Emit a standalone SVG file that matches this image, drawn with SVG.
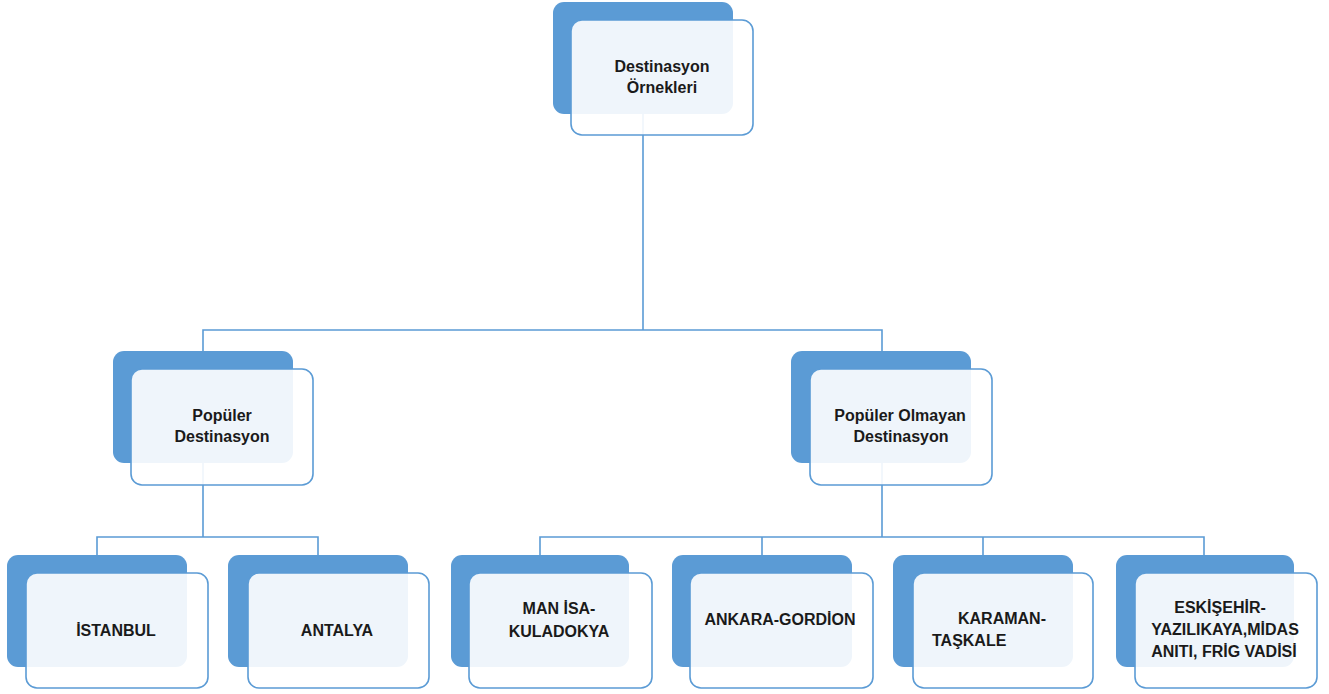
<svg xmlns="http://www.w3.org/2000/svg" width="1329" height="694" viewBox="0 0 1329 694">
<style>
.back{fill:#5B9BD5;}
.front{fill:#ffffff;fill-opacity:0.9;stroke:#5B9BD5;stroke-width:1.6;}
.t{font-family:"Liberation Sans",Arial,sans-serif;font-size:16px;font-weight:bold;fill:#1a1a1a;}
.c{text-anchor:middle;}
.conn{fill:none;stroke:#5B9BD5;stroke-width:1.6;}
</style>
<rect width="1329" height="694" fill="#ffffff"/>
<g id="connectors">
<path class="conn" d="M643 113 V330 M203 352 V330 H882 V352"/>
<path class="conn" d="M203 463 V537 M97 555 V537 H318 V555"/>
<path class="conn" d="M882 463 V537 M540 555 V537 H1204 V555 M762 537 V555 M983 537 V555"/>
</g>
<g id="node-root">
<rect class="back" x="553" y="2" width="180" height="112" rx="11"/>
<rect class="front" x="571" y="20" width="182" height="115" rx="11"/>
<text class="t c" x="662" y="72">Destinasyon</text>
<text class="t c" x="662" y="93">Örnekleri</text>
</g>
<g id="node-populer">
<rect class="back" x="113" y="351" width="180" height="112" rx="11"/>
<rect class="front" x="131" y="369" width="182" height="116" rx="11"/>
<text class="t c" x="222" y="421">Popüler</text>
<text class="t c" x="222" y="442">Destinasyon</text>
</g>
<g id="node-populer-olmayan">
<rect class="back" x="791" y="351" width="180" height="112" rx="11"/>
<rect class="front" x="810" y="369" width="182" height="116" rx="11"/>
<text class="t c" x="900" y="421">Popüler Olmayan</text>
<text class="t c" x="901" y="442">Destinasyon</text>
</g>
<g id="node-istanbul">
<rect class="back" x="7" y="555" width="180" height="112" rx="11"/>
<rect class="front" x="26" y="573" width="182" height="115" rx="11"/>
<text class="t c" x="116" y="636">İSTANBUL</text>
</g>
<g id="node-antalya">
<rect class="back" x="228" y="555" width="180" height="112" rx="11"/>
<rect class="front" x="248" y="573" width="181" height="115" rx="11"/>
<text class="t c" x="337" y="636">ANTALYA</text>
</g>
<g id="node-manisa">
<rect class="back" x="451" y="555" width="178" height="112" rx="11"/>
<rect class="front" x="469" y="573" width="183" height="115" rx="11"/>
<text class="t c" x="559" y="614">MAN İSA-</text>
<text class="t c" x="559" y="637">KULADOKYA</text>
</g>
<g id="node-ankara">
<rect class="back" x="672" y="555" width="180" height="112" rx="11"/>
<rect class="front" x="690" y="573" width="183" height="115" rx="11"/>
<text class="t c" x="780" y="625">ANKARA-GORDİON</text>
</g>
<g id="node-karaman">
<rect class="back" x="893" y="555" width="180" height="112" rx="11"/>
<rect class="front" x="913" y="573" width="180" height="115" rx="11"/>
<text class="t c" x="1002" y="624">KARAMAN-</text>
<text class="t" x="932" y="646">TAŞKALE</text>
</g>
<g id="node-eskisehir">
<rect class="back" x="1116" y="555" width="178" height="112" rx="11"/>
<rect class="front" x="1135" y="573" width="182" height="115" rx="11"/>
<text class="t c" x="1220" y="613">ESKİŞEHİR-</text>
<text class="t c" x="1225" y="635">YAZILIKAYA,MİDAS</text>
<text class="t c" x="1224" y="657">ANITI, FRİG VADİSİ</text>
</g>
</svg>
